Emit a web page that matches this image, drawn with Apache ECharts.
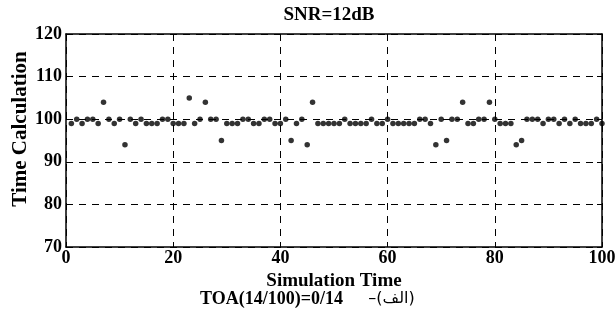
<!DOCTYPE html>
<html>
<head>
<meta charset="utf-8">
<script src="https://cdn.jsdelivr.net/npm/echarts@6/dist/echarts.min.js"></script>
<style>
  html, body { margin: 0; padding: 0; background: #fff; }
  #chart { width: 615px; height: 316px; }
</style>
</head>
<body>
<div id="chart"></div>
<script>
// simulation index 1..100 and the computed time per run
var SIM_TIME = [];
for (var i = 1; i <= 100; i++) SIM_TIME.push(i);

var TIME_CALC = [
  99, 100, 99, 100, 100, 99, 104, 100, 99, 100,
  94, 100, 99, 100, 99, 99, 99, 100, 100, 99,
  99, 99, 105, 99, 100, 104, 100, 100, 95, 99,
  99, 99, 100, 100, 99, 99, 100, 100, 99, 99,
  100, 95, 99, 100, 94, 104, 99, 99, 99, 99,
  99, 100, 99, 99, 99, 99, 100, 99, 99, 100,
  99, 99, 99, 99, 99, 100, 100, 99, 94, 100,
  95, 100, 100, 104, 99, 99, 100, 100, 104, 100,
  99, 99, 99, 94, 95, 100, 100, 100, 99, 100,
  100, 99, 100, 99, 100, 99, 99, 99, 100, 99
];

var TITLE = 'SNR=12dB';
var Y_NAME = 'Time Calculation';
var CAPTION_LATIN = 'TOA(14/100)=0/14';
var CAPTION_ARABIC = '–(الف)';

var FONT = 'Liberation Serif';

var points = SIM_TIME.map(function (x, k) { return [x, TIME_CALC[k]]; });

var dashed = { show: true, lineStyle: { color: '#000', type: [7, 6], width: 1 } };
var tickIn = { show: true, inside: true, length: 5, lineStyle: { color: '#000' } };
var line = { show: true, onZero: false, lineStyle: { color: '#000', width: 1.5 } };
var lbl = { color: '#000', fontFamily: FONT, fontWeight: 'bold', fontSize: 18 };
var nameLbl = { color: '#000', fontFamily: FONT, fontWeight: 'bold', fontSize: 19 };

var chart = echarts.init(document.getElementById('chart'), null, { renderer: 'canvas' });
chart.setOption({
  animation: false,
  title: {
    text: TITLE,
    left: 324,
    top: 1,
    textAlign: 'center',
    textStyle: nameLbl
  },
  graphic: [{
    type: 'text',
    x: 21,
    y: 129,
    rotation: Math.PI / 2,
    style: {
      text: Y_NAME,
      fill: '#000',
      font: 'bold 21px "Liberation Serif"',
      align: 'center',
      verticalAlign: 'middle'
    }
  }, {
    type: 'text',
    left: 200,
    top: 290,
    style: {
      text: '{a|' + CAPTION_LATIN + '}{b|     ' + CAPTION_ARABIC + '}',
      rich: {
        a: { fill: '#000', fontFamily: FONT, fontWeight: 'bold', fontSize: 18 },
        b: { fill: '#000', fontFamily: 'DejaVu Sans', fontSize: 16 }
      }
    }
  }],
  grid: { left: 66, right: 13, top: 34, bottom: 69, containLabel: false, outerBoundsMode: 'none' },
  xAxis: [{
    type: 'value', min: 0, max: 100, interval: 20,
    name: 'Simulation Time', nameLocation: 'middle', nameGap: 19,
    nameTextStyle: nameLbl,
    axisLine: line, axisTick: tickIn,
    axisLabel: Object.assign({ margin: 2 }, lbl),
    splitLine: dashed
  }, {
    type: 'value', min: 0, max: 100, interval: 20, position: 'top',
    axisLine: line, axisTick: tickIn, axisLabel: { show: false }, splitLine: { show: false }
  }],
  yAxis: [{
    type: 'value', min: 70, max: 120, interval: 10,
    axisLine: line, axisTick: tickIn,
    axisLabel: Object.assign({ margin: 4 }, lbl),
    splitLine: dashed
  }, {
    type: 'value', min: 70, max: 120, interval: 10, position: 'right',
    axisLine: line, axisTick: tickIn, axisLabel: { show: false }, splitLine: { show: false }
  }],
  series: [{
    type: 'scatter',
    data: points,
    symbol: 'circle',
    symbolSize: 5.5,
    itemStyle: { color: '#000' }
  }]
});
</script>
</body>
</html>
